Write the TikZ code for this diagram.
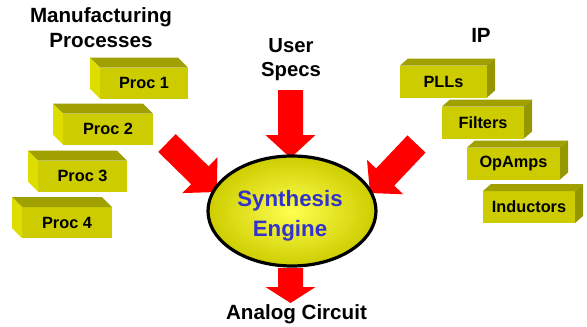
\documentclass[tikz,border=0pt]{standalone}
\usepackage{fontspec}
\setmainfont{Liberation Sans}
\usepackage{tikz}
\usetikzlibrary{shapes.geometric,calc}

\definecolor{caixa}{RGB}{204,204,0}
\definecolor{caixatopo}{RGB}{160,160,0}
\definecolor{caixaluz}{RGB}{221,221,0}
\definecolor{caixasombra}{RGB}{150,150,0}
\definecolor{azulmotor}{RGB}{51,51,204}

% seta larga: cauda, ponta, comprimento da cabeca
\newcommand{\setalarga}[3]{%
  \coordinate (basecab) at ($(#2)!#3!(#1)$);
  \fill[red] ($(#1)!12.5pt!90:(#2)$) -- ($(basecab)!12.5pt!90:(#2)$)
    -- ($(basecab)!25pt!90:(#2)$) -- (#2) -- ($(basecab)!25pt!-90:(#2)$)
    -- ($(basecab)!12.5pt!-90:(#2)$) -- ($(#1)!12.5pt!-90:(#2)$) -- cycle;}

\tikzset{
  caixaproc/.style={fill=caixa, minimum height=31, inner sep=0pt, outer sep=0pt,
    font=\fontsize{16.3}{18}\selectfont\bfseries},
  titulo/.style={font=\fontsize{20.6}{25}\selectfont\bfseries, inner sep=0pt, align=center},
  motor/.style={ellipse, draw=black, line width=3.2pt, minimum width=168, minimum height=110,
    shading=radial, inner color={rgb,255:red,255;green,255;blue,80},
    outer color={rgb,255:red,205;green,205;blue,0}}
}

\begin{document}
\begin{tikzpicture}[x=1pt,y=-1pt]
        \useasboundingbox (0,0) rectangle (587,327);

        % Titulos
        \node[titulo] (processos) at (101,28) {Manufacturing\\Processes};
        \node[titulo, font=\fontsize{20.3}{24}\selectfont\bfseries] (specs) at (291,60) {User\\Specs};
        \node[titulo] (ip) at (481,35.5) {IP};
        \node[titulo, anchor=base] (circuito) at (296.5,319) {Analog Circuit};

        % Processos
        \foreach \nome/\x/\y/\w/\txt in {proc1/144/83/88/Proc 1,proc2/108/129/90/Proc 2,proc3/82.5/176/89/Proc 3,proc4/67/222.5/90/Proc 4}
        {
            \node[caixaproc, minimum width=\w] (\nome) at (\x,\y) {\txt};
            \fill[caixatopo] (\nome.north west) -- ++(-10,-10) -- ($(\nome.north east)+(-10,-10)$) -- (\nome.north east) -- cycle;
            \fill[caixaluz] (\nome.north west) -- ++(-10,-10) -- ($(\nome.south west)+(-10,-10)$) -- (\nome.south west) -- cycle;
        }

        % IP
        \foreach \nome/\x/\y/\w/\txt in {plls/443.5/81.5/87/PLLs,filtros/483/122.5/82/Filters,opamps/513.5/163.5/93/OpAmps,indutores/529/207/92/Inductors}
        {
            \node[caixaproc, minimum width=\w, minimum height=32] (\nome) at (\x,\y) {\txt};
            \fill[caixatopo] (\nome.north west) -- ++(8,-7) -- ($(\nome.north east)+(8,-7)$) -- (\nome.north east) -- cycle;
            \fill[caixasombra] (\nome.north east) -- ++(8,-7) -- ($(\nome.south east)+(8,-7)$) -- (\nome.south east) -- cycle;
        }

        % Setas
        \coordinate (caudaesq) at (167,143);
        \coordinate (pontaesq) at (217,192);
        \coordinate (caudatopo) at (290.5,90);
        \coordinate (pontatopo) at (290.5,158);
        \coordinate (caudadir) at (416.5,144);
        \coordinate (pontadir) at (370,193);
        \coordinate (caudabaixo) at (290.5,268);
        \coordinate (pontabaixo) at (290.5,303);
        \setalarga{caudaesq}{pontaesq}{24pt}
        \setalarga{caudatopo}{pontatopo}{23pt}
        \setalarga{caudadir}{pontadir}{22pt}
        \setalarga{caudabaixo}{pontabaixo}{16pt}

        % Motor
        \node[motor] (engine) at (292,211) {};
        \node[font=\fontsize{22.3}{30}\selectfont\bfseries, text=azulmotor, align=center, inner sep=0pt] (enginetxt) at (290,216) {Synthesis\\Engine};
    \end{tikzpicture}
\end{document}
